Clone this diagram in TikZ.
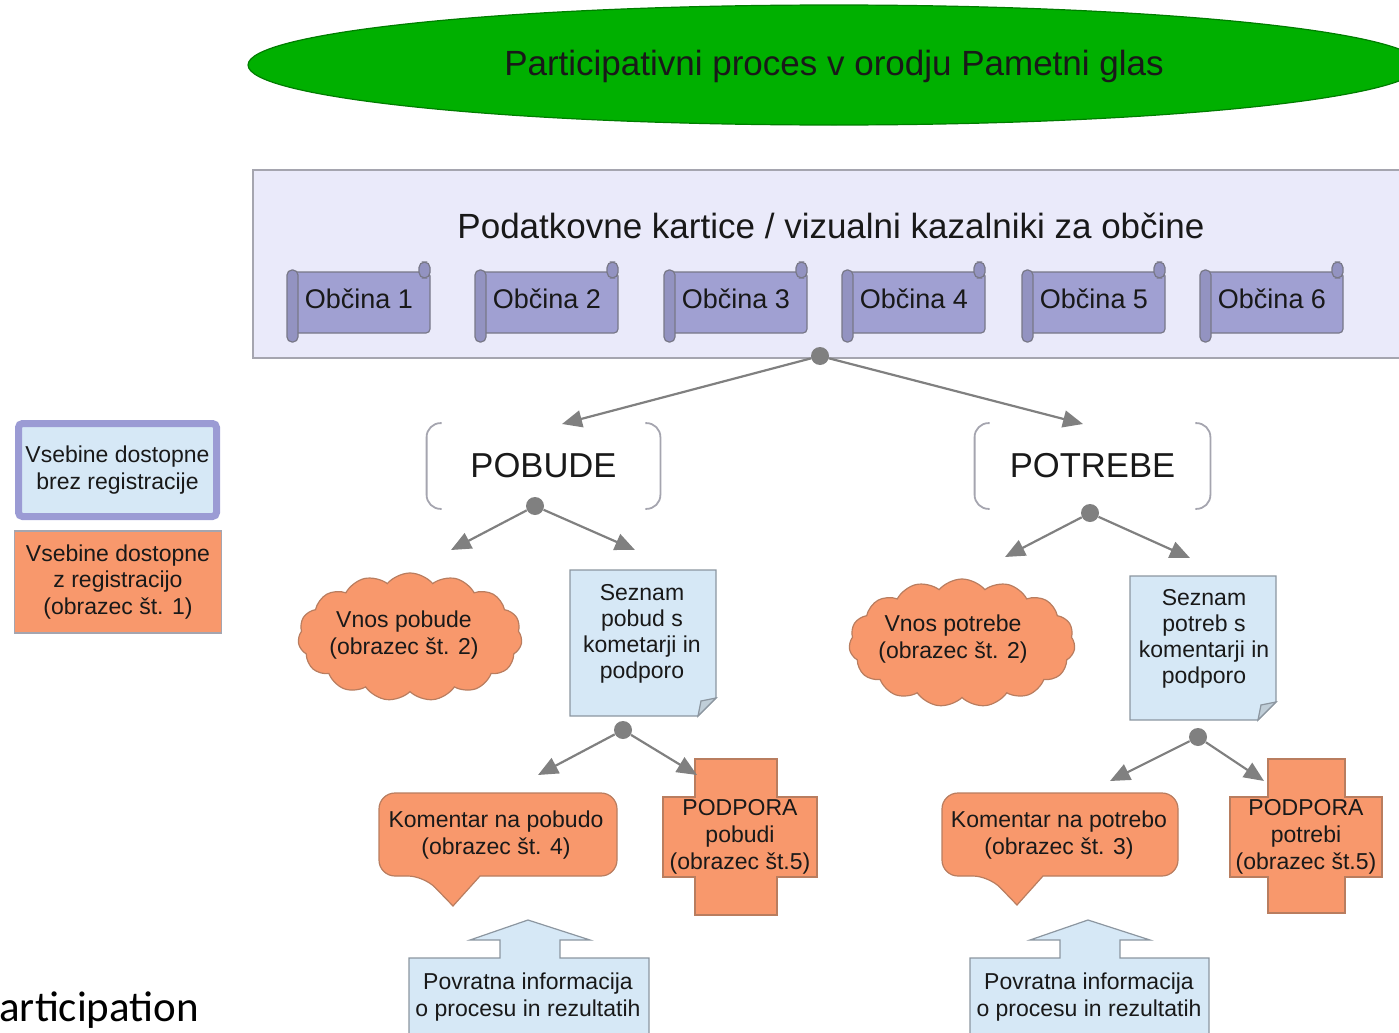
\documentclass[tikz,border=0pt]{standalone}
\usepackage{fontspec}
\setmainfont{Liberation Sans}
\newfontfamily\calibrifont{Carlito}
\usetikzlibrary{arrows.meta,shapes.geometric,shapes.symbols,calc}
\definecolor{titlegreen}{RGB}{0,176,0}
\definecolor{titleedge}{RGB}{0,125,0}
\definecolor{panelfill}{RGB}{234,234,250}
\definecolor{paneledge}{RGB}{165,165,175}
\definecolor{scrollfill}{RGB}{160,160,210}
\definecolor{scrolledge}{RGB}{120,120,135}
\definecolor{orangefill}{RGB}{248,152,108}
\definecolor{orangeedge}{RGB}{185,125,95}
\definecolor{bluefill}{RGB}{214,232,246}
\definecolor{blueedge}{RGB}{140,150,160}
\definecolor{conncol}{RGB}{128,128,128}
\definecolor{legendedge}{RGB}{155,155,212}
\definecolor{txt}{RGB}{25,25,25}
\begin{document}
\begin{tikzpicture}[x=0.5pt,y=-0.5pt,
  every node/.style={text=txt},
  small/.style={font=\fontsize{11.5}{13.3}\selectfont, align=center, inner sep=0pt},
  big/.style={font=\fontsize{17.5}{20}\selectfont, inner sep=0pt},
  connector/.style={draw=conncol, line width=1.1pt, -{Triangle[length=10pt,width=8.5pt]}},
  dotnode/.style={circle, fill=conncol, inner sep=0pt, minimum size=9pt},
  orangeshape/.style={fill=orangefill, draw=orangeedge, line width=0.6pt},
  blueshape/.style={fill=bluefill, draw=blueedge, line width=0.6pt},
  bracket/.style={draw=paneledge, line width=0.9pt, rounded corners=7pt},
  pics/obcinascroll/.style={code={
     \draw[fill=scrollfill, draw=scrolledge, line width=0.6pt, rounded corners=2pt] (6,10) rectangle (143,71);
     \draw[fill=scrollfill!92!black, draw=scrolledge, line width=0.6pt, rounded corners=2.8pt] (132,0) rectangle (143,16);
     \draw[fill=scrollfill!92!black, draw=scrolledge, line width=0.6pt, rounded corners=2.5pt] (0,8) rectangle (11,80);
     \node[font=\fontsize{13.5}{16}\selectfont, inner sep=0pt] (-label) at (72,37) {#1};
  }},
]
\useasboundingbox (0,0) rectangle (1399,1033);
\clip (0,0) rectangle (1399,1033);

% title
\node[ellipse, fill=titlegreen, draw=titleedge, line width=0.6pt, minimum width=586pt, minimum height=60pt, inner sep=0pt] (titleell) at (834,65) {};
\node[big] (titletxt) at (834,66) {Participativni proces v orodju Pametni glas};

% panel
\node[draw=paneledge, fill=panelfill, line width=0.8pt, minimum width=584pt, minimum height=94pt, inner sep=0pt] (panel) at (837,264) {};
\node[big] (header) at (831,226) {Podatkovne kartice / vizualni kazalniki za občine};
\pic (ob1) at (287,262) {obcinascroll={Občina 1}};
\pic (ob2) at (475,262) {obcinascroll={Občina 2}};
\pic (ob3) at (664,262) {obcinascroll={Občina 3}};
\pic (ob4) at (842,262) {obcinascroll={Občina 4}};
\pic (ob5) at (1022,262) {obcinascroll={Občina 5}};
\pic (ob6) at (1200,262) {obcinascroll={Občina 6}};

% legend
\node[small, draw=legendedge, fill=bluefill, line width=3.5pt, rounded corners=2pt, minimum width=99pt, minimum height=46.5pt] (leg1) at (117.5,470) {Vsebine dostopne\\brez registracije};
\node[small, draw=paneledge, fill=orangefill, line width=0.6pt, minimum width=103.5pt, minimum height=51pt] (leg2) at (118,582) {Vsebine dostopne\\z registracijo\\(obrazec št. 1)};

% POBUDE / POTREBE
\node[font=\fontsize{17.3}{20}\selectfont, minimum width=116.5pt, minimum height=42.5pt, inner sep=0pt] (pobude) at (543.5,466) {POBUDE};
\draw[bracket] ($(pobude.north west)+(15,0)$) -- (pobude.north west) -- (pobude.south west) -- ($(pobude.south west)+(15,0)$);
\draw[bracket] ($(pobude.north east)+(-15,0)$) -- (pobude.north east) -- (pobude.south east) -- ($(pobude.south east)+(-15,0)$);
\node[font=\fontsize{17.3}{20}\selectfont, minimum width=117.5pt, minimum height=42.5pt, inner sep=0pt] (potrebe) at (1092.5,466) {POTREBE};
\draw[bracket] ($(potrebe.north west)+(15,0)$) -- (potrebe.north west) -- (potrebe.south west) -- ($(potrebe.south west)+(15,0)$);
\draw[bracket] ($(potrebe.north east)+(-15,0)$) -- (potrebe.north east) -- (potrebe.south east) -- ($(potrebe.south east)+(-15,0)$);

% clouds
\node[cloud, cloud puffs=15, cloud puff arc=100, cloud ignores aspect, minimum width=112pt, minimum height=64pt, orangeshape, inner sep=0pt] (cloud1) at (410,637) {};
\node[small] (cloud1txt) at (404,635) {Vnos pobude\\(obrazec št. 2)};
\node[cloud, cloud puffs=15, cloud puff arc=100, cloud ignores aspect, minimum width=113pt, minimum height=64pt, orangeshape, inner sep=0pt] (cloud2) at (962,643) {};
\node[small] (cloud2txt) at (953,639) {Vnos potrebe\\(obrazec št. 2)};

% notes
\draw[blueshape] (570,570) -- (716,570) -- (716,698) -- (698,716) -- (570,716) -- cycle;
\draw[blueshape, fill=bluefill!75!gray] (716,698) -- (701,701) -- (698,716) -- cycle;
\node[small, font=\fontsize{11.5}{13}\selectfont] (seznam1) at (642,634) {Seznam\\pobud s\\kometarji in\\podporo};
\draw[blueshape] (1130,576) -- (1276,576) -- (1276,702) -- (1258,720) -- (1130,720) -- cycle;
\draw[blueshape, fill=bluefill!75!gray] (1276,702) -- (1261,705) -- (1258,720) -- cycle;
\node[small, font=\fontsize{11.5}{13}\selectfont] (seznam2) at (1204,639) {Seznam\\potreb s\\komentarji in\\podporo};

% callouts
\draw[orangeshape] (453,906) -- (480,876) [rounded corners=8pt] -- (617,876) -- (617,793) -- (379,793) -- (379,876) -- (424,876) [sharp corners] -- cycle;
\node[small] (kom1) at (496,835) {Komentar na pobudo\\(obrazec št. 4)};
\draw[orangeshape] (1017,905) -- (1043,876) [rounded corners=8pt] -- (1178,876) -- (1178,793) -- (942,793) -- (942,876) -- (989,876) [sharp corners] -- cycle;
\node[small] (kom2) at (1059,835) {Komentar na potrebo\\(obrazec št. 3)};

% crosses
\draw[orangeshape] (695,759) -- (777,759) -- (777,797) -- (817,797) -- (817,877) -- (777,877) -- (777,915) -- (695,915) -- (695,877) -- (663,877) -- (663,797) -- (695,797) -- cycle;
\node[small, font=\fontsize{11.5}{13.5}\selectfont] (podp1) at (740,837) {PODPORA\\pobudi\\(obrazec št.5)};
\draw[orangeshape] (1268,759) -- (1345,759) -- (1345,797) -- (1382,797) -- (1382,877) -- (1345,877) -- (1345,913) -- (1268,913) -- (1268,877) -- (1230,877) -- (1230,797) -- (1268,797) -- cycle;
\node[small, font=\fontsize{11.5}{13.5}\selectfont] (podp2) at (1306,837) {PODPORA\\potrebi\\(obrazec št.5)};

% feedback arrows
\draw[blueshape] (409,1045) -- (409,958) -- (500,958) -- (500,940) -- (470,940) -- (528,920) -- (590,940) -- (560,940) -- (560,958) -- (649,958) -- (649,1045);
\node[small] (povr1) at (528,997) {Povratna informacija\\o procesu in rezultatih};
\draw[blueshape] (970,1045) -- (970,958) -- (1060,958) -- (1060,940) -- (1030,940) -- (1088,920) -- (1150,940) -- (1120,940) -- (1120,958) -- (1209,958) -- (1209,1045);
\node[small] (povr2) at (1089,997) {Povratna informacija\\o procesu in rezultatih};

% connectors
\node[dotnode] (d0) at (820,356) {};
\coordinate (e01) at (562,424);
\coordinate (e02) at (1083,424);
\draw[connector] (d0) -- (e01);
\draw[connector] (d0) -- (e02);

\node[dotnode] (d1) at (535,506) {};
\coordinate (e11) at (451,550);
\coordinate (e12) at (635,550);
\draw[connector] (d1) -- (e11);
\draw[connector] (d1) -- (e12);

\node[dotnode] (d2) at (1090,513) {};
\coordinate (e21) at (1005,557);
\coordinate (e22) at (1190,558);
\draw[connector] (d2) -- (e21);
\draw[connector] (d2) -- (e22);

\node[dotnode] (d3) at (623,730) {};
\coordinate (e31) at (538,775);
\coordinate (e32) at (697,775);
\draw[connector] (d3) -- (e31);
\draw[connector] (d3) -- (e32);

\node[dotnode] (d4) at (1198,737) {};
\coordinate (e41) at (1110,781);
\coordinate (e42) at (1264,781);
\draw[connector] (d4) -- (e41);
\draw[connector] (d4) -- (e42);

% bottom-left text
\node[font=\calibrifont\fontsize{21.5}{26}\selectfont, anchor=base west, inner sep=0pt, text=black] (partlabel) at (-1,1021) {articipation};
\end{tikzpicture}
\end{document}
